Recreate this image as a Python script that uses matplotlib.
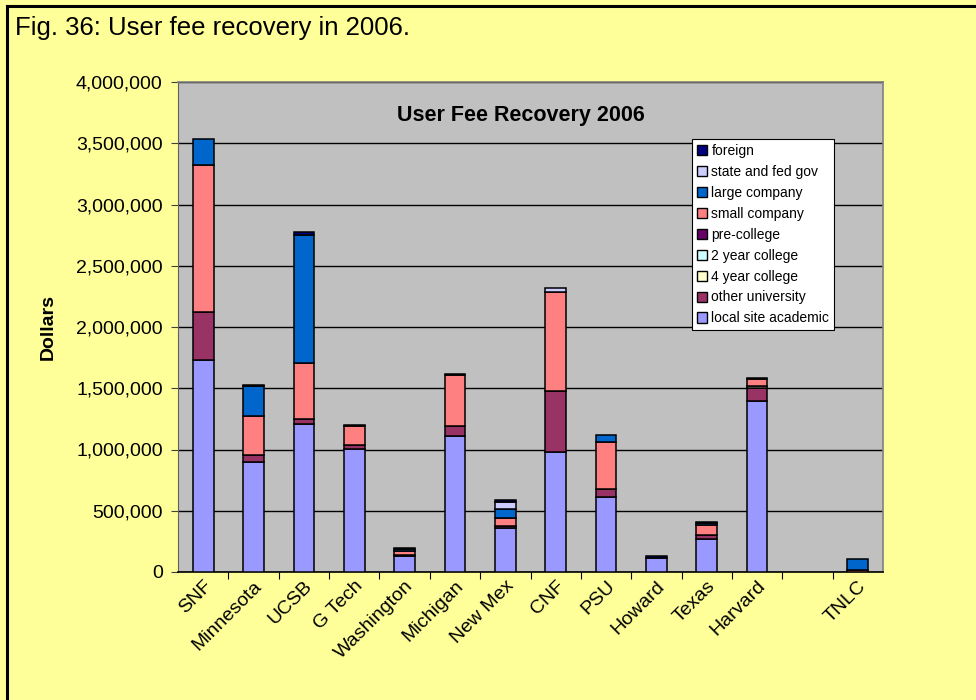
import matplotlib
matplotlib.use("Agg")
import matplotlib.pyplot as plt
import numpy as np
from matplotlib.ticker import FuncFormatter, FixedLocator
from matplotlib.patches import Patch

plt.rcParams['font.family'] = ['Liberation Sans', 'DejaVu Sans']

categories = ["SNF", "Minnesota", "UCSB", "G Tech", "Washington", "Michigan",
              "New Mex", "CNF", "PSU", "Howard", "Texas", "Harvard", "", "TNLC"]

local_site_academic = [1730000, 895000, 1206000, 1004000, 130000, 1110000, 362000,
                       980000, 615000, 114000, 267000, 1393000, 0, 0]
other_university = [395000, 60000, 40000, 33000, 5000, 84000, 16000,
                    500000, 63000, 0, 35000, 106000, 0, 0]
four_year_college = [0, 0, 0, 0, 0, 0, 0, 0, 0, 0, 0, 20000, 0, 0]
two_year_college = [0, 0, 0, 0, 0, 0, 0, 0, 0, 0, 0, 0, 0, 0]
pre_college = [0, 0, 0, 0, 0, 0, 0, 0, 0, 0, 0, 0, 0, 0]
small_company = [1200000, 316000, 460000, 155000, 38000, 414000, 65000,
                 808000, 381000, 0, 79000, 55000, 0, 18000]
large_company = [212000, 247000, 1045000, 0, 15000, 5000, 74000,
                 0, 62000, 0, 16000, 8000, 0, 88000]
state_and_fed_gov = [0, 0, 0, 0, 0, 0, 52000, 28000, 0, 0, 0, 0, 0, 0]
foreign = [0, 5000, 22000, 5000, 5000, 0, 19000, 0, 0, 18000, 8000, 0, 0, 0]

series = [
    ("local site academic", local_site_academic, "#9999FF"),
    ("other university", other_university, "#993366"),
    ("4 year college", four_year_college, "#FFFFCC"),
    ("2 year college", two_year_college, "#CCFFFF"),
    ("pre-college", pre_college, "#660066"),
    ("small company", small_company, "#FF8080"),
    ("large company", large_company, "#0066CC"),
    ("state and fed gov", state_and_fed_gov, "#CCCCFF"),
    ("foreign", foreign, "#000080"),
]

fig = plt.figure(figsize=(9.76, 7.0), dpi=100)
fig.patch.set_facecolor("#FFFF99")

# outer frame lines (left & top)
fig.add_artist(plt.Line2D([7/976, 7/976], [0, 1 - 6/700], color="black", lw=2.2,
                          transform=fig.transFigure))
fig.add_artist(plt.Line2D([7/976, 1], [1 - 6/700, 1 - 6/700], color="black", lw=2.2,
                          transform=fig.transFigure))

ax = fig.add_axes([178/976, 1 - 572/700, (883 - 178)/976, (572 - 82)/700])
ax.set_facecolor("#C0C0C0")

x = np.arange(len(categories))
bottom = np.zeros(len(categories))
for name, vals, col in series:
    v = np.array(vals, dtype=float)
    mask = v > 0
    ax.bar(x[mask], v[mask], width=0.41, bottom=bottom[mask], color=col,
           edgecolor="black", linewidth=1.1, zorder=3)
    bottom += v

ax.set_xlim(-0.5, len(categories) - 0.5)
ax.set_ylim(0, 4000000)
ax.set_yticks(np.arange(0, 4000001, 500000))
ax.yaxis.set_major_formatter(FuncFormatter(lambda v, p: f"{int(v):,}"))
ax.grid(axis="y", color="black", linewidth=1.0, zorder=1)
ax.tick_params(axis="y", labelsize=14, length=5, color="#404040", pad=6)

# x ticks: marks at category boundaries, labels at centres
ax.xaxis.set_major_locator(FixedLocator(x[:-1] + 0.5))
ax.xaxis.set_minor_locator(FixedLocator(x))
ax.tick_params(axis="x", which="major", length=5, color="black", labelbottom=False)
ax.set_xticks(x, minor=True)
ax.set_xticklabels(categories, minor=True, rotation=45, ha="right",
                   rotation_mode="anchor", fontsize=14)
ax.tick_params(axis="x", which="minor", length=0, pad=4)

for s in ["top", "right"]:
    ax.spines[s].set_color("#808080")
    ax.spines[s].set_linewidth(1.2)
ax.spines["left"].set_color("#606060")
ax.spines["bottom"].set_color("black")
ax.spines["bottom"].set_linewidth(1.2)

ax.set_ylabel("Dollars", fontsize=14, fontweight="bold", labelpad=14)

ax.text(0.486, 0.932, "User Fee Recovery 2006", transform=ax.transAxes,
        ha="center", va="center", fontsize=15.5, fontweight="bold")

handles = [Patch(facecolor=col, edgecolor="black", label=name)
           for name, vals, col in series][::-1]
leg = ax.legend(handles=handles, loc="upper left",
                bbox_to_anchor=((692 - 178)/705, (572 - 139)/490),
                fontsize=10, frameon=True, fancybox=False, framealpha=1,
                edgecolor="black", handlelength=0.75, handleheight=0.75,
                handletextpad=0.3, labelspacing=0.5, borderpad=0.35,
                borderaxespad=0)
leg.get_frame().set_linewidth(0.8)
leg.set_zorder(5)

fig.text(15/976, 1 - 28/700, "Fig. 36: User fee recovery in 2006.", fontsize=18.5,
         ha="left", va="center")

fig.savefig("out.png", dpi=100, facecolor=fig.get_facecolor())
